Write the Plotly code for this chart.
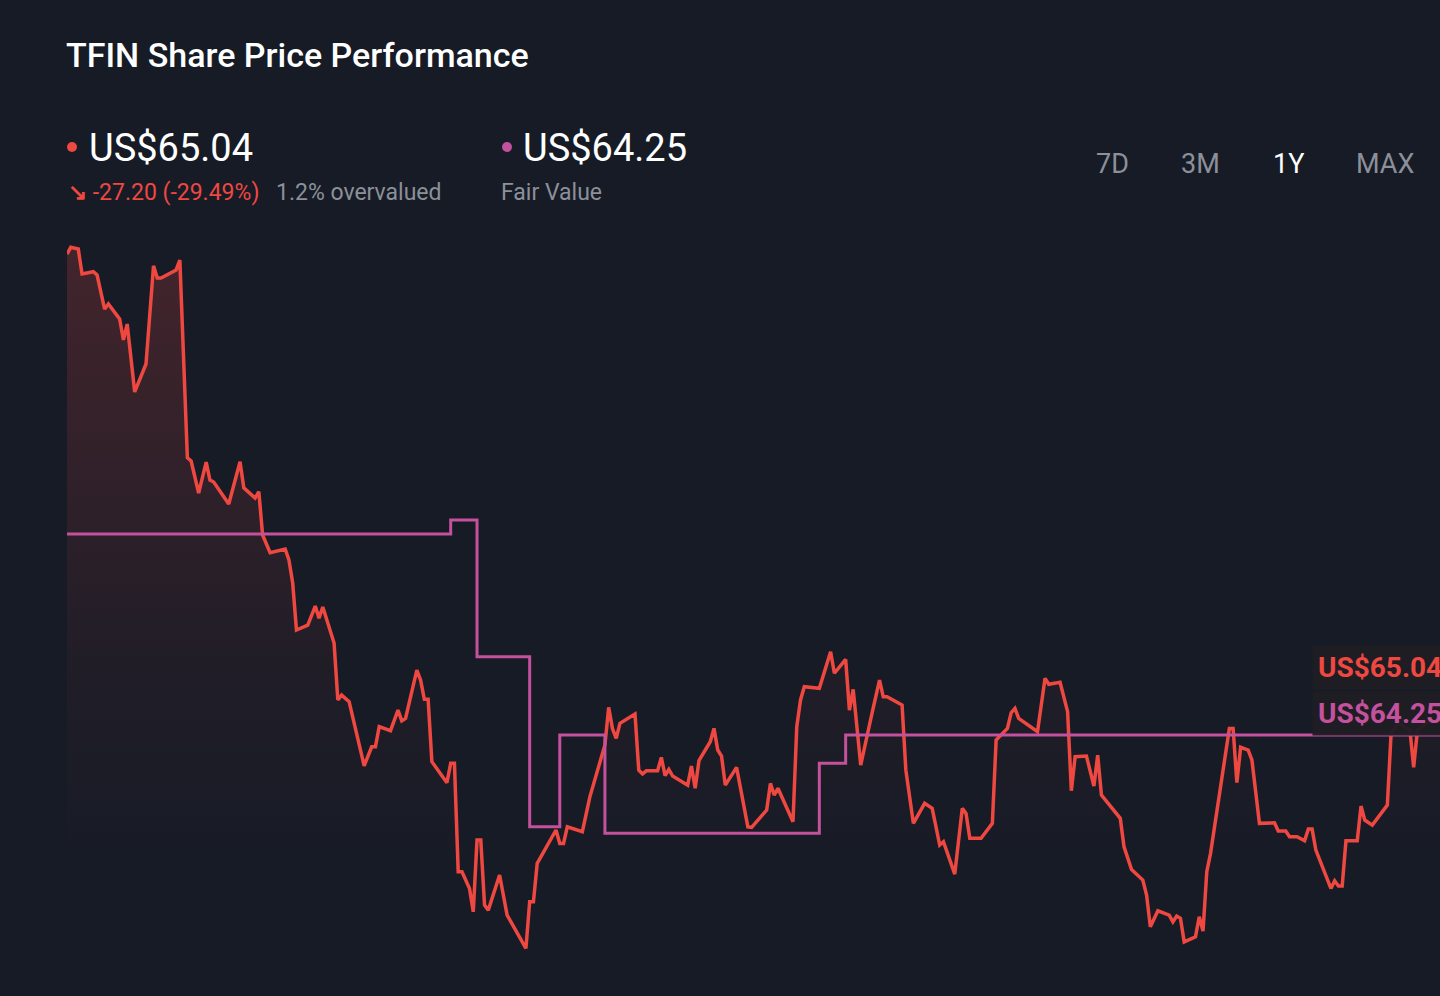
import pandas as pd
import plotly.graph_objects as go

START = "2024-03-10"

# share price (days since start, US$)
PRICE_DAYS = [
    0, 1, 3, 4, 7, 8, 10, 11, 14, 15, 16, 18, 21, 23, 24, 25, 29, 30, 32, 33,
    35, 37, 38, 39, 43, 46, 47, 50, 51, 52, 54, 58, 59, 60, 61, 64, 66, 67, 68, 71,
    72, 73, 75, 79, 81, 82, 83, 86, 88, 89, 90, 93, 94, 95, 96, 97, 101, 102, 103, 104,
    105, 107, 108, 109, 110, 111, 112, 115, 117, 122, 123, 124, 125, 128, 130, 131, 132, 133, 137, 139,
    143, 144, 145, 146, 147, 151, 152, 153, 154, 157, 158, 159, 160, 161, 165, 166, 167, 168, 171, 172,
    173, 174, 175, 178, 180, 181, 182, 186, 187, 188, 189, 193, 194, 195, 196, 200, 203, 204, 207, 208,
    209, 211, 214, 216, 217, 218, 222, 223, 225, 228, 230, 232, 233, 236, 238, 239, 240, 243, 244, 246,
    247, 248, 250, 251, 252, 253, 258, 260, 261, 264, 266, 267, 268, 271, 273, 274, 275, 280, 281, 283,
    286, 287, 288, 290, 293, 294, 295, 296, 297, 300, 301, 302, 303, 304, 309, 310, 311, 312, 314, 315,
    317, 321, 322, 324, 325, 327, 329, 330, 331, 332, 336, 337, 338, 339, 340, 343, 344, 345, 347, 351,
    352, 354, 357, 358, 359, 362, 365,
]
PRICES = [
    91.81, 92.20, 92.10, 90.67, 90.80, 90.61, 88.66, 88.95, 88.09, 86.89, 87.80, 83.91, 85.51, 91.14, 90.44, 90.44, 90.90, 91.47, 80.14, 79.95,
    78.12, 79.89, 78.86, 78.75, 77.49, 79.91, 78.42, 77.83, 78.19, 75.71, 74.70, 74.91, 74.28, 72.96, 70.27, 70.55, 71.64, 70.95, 71.59, 69.52,
    66.26, 66.54, 66.16, 62.49, 63.58, 63.58, 64.73, 64.50, 65.68, 65.07, 65.21, 67.97, 67.40, 66.30, 66.30, 62.72, 61.52, 62.63, 62.63, 56.42,
    56.42, 55.46, 54.12, 58.23, 58.23, 54.51, 54.22, 56.23, 53.93, 52.03, 54.70, 54.70, 56.90, 58.04, 58.81, 58.04, 58.04, 58.99, 58.71, 60.71,
    63.68, 65.84, 64.63, 64.06, 64.92, 65.45, 62.24, 62.02, 62.20, 62.20, 62.97, 61.92, 62.28, 61.90, 61.38, 62.47, 61.20, 62.78, 63.87, 64.63,
    63.39, 63.05, 61.38, 62.40, 60.14, 58.99, 58.96, 59.95, 61.48, 60.81, 61.20, 59.28, 64.73, 66.26, 67.02, 66.93, 69.02, 67.79, 68.59, 65.68,
    66.87, 62.53, 65.49, 67.40, 66.44, 66.44, 65.97, 62.24, 59.19, 60.34, 60.05, 57.95, 58.14, 56.28, 60.05, 59.76, 58.33, 58.33, 58.62, 59.19,
    63.96, 64.19, 64.63, 65.53, 65.78, 65.21, 64.44, 67.50, 67.16, 67.27, 65.59, 61.06, 63.01, 63.05, 61.33, 63.10, 60.81, 59.48, 57.85, 56.55,
    55.94, 55.08, 53.26, 54.18, 53.93, 53.55, 53.88, 53.75, 52.40, 52.69, 53.84, 53.02, 56.42, 57.47, 64.63, 64.63, 61.52, 63.55, 63.39, 62.82,
    59.19, 59.22, 58.75, 58.75, 58.42, 58.42, 58.19, 58.86, 58.86, 57.66, 55.46, 55.90, 55.60, 55.60, 58.19, 58.19, 60.18, 59.38, 59.09, 60.24,
    64.35, 64.94, 64.54, 62.40, 64.54, 65.01, 65.04,
]

# fair value estimate, changes on these days
FV_DAYS = [0, 102, 109, 123, 131, 143, 200, 207, 365]
FV_VALUES = [75.77, 76.57, 68.74, 59.00, 64.25, 58.62, 62.63, 64.25, 64.25]

LAST_PRICE = "US$65.04"
FAIR_VALUE = "US$64.25"
CHANGE = "-27.20 (-29.49%)"
VALUATION = "1.2% overvalued"
RANGES = ["7D", "3M", "1Y", "MAX"]

BG = "#161b26"
RED = "#ee4841"
PINK = "#c4519d"
GREY = "#8b9099"

W, H = 1440, 996
L, R, T, B = 67, 1440, 230, 960

start = pd.Timestamp(START)
price_x = start + pd.to_timedelta(PRICE_DAYS, unit="D")
fv_x = start + pd.to_timedelta(FV_DAYS, unit="D")


def px(x):
    return (x - L) / (R - L)


def py(y):
    return (B - y) / (B - T)


fig = go.Figure()
fig.add_trace(go.Scatter(
    x=price_x, y=PRICES, mode="lines",
    line=dict(color=RED, width=3.5),
    fill="tozeroy",
    fillgradient=dict(
        type="vertical", start=55.5, stop=92.3,
        colorscale=[[0, "rgba(238,72,65,0)"], [0.35, "rgba(238,72,65,0.05)"],
                    [1, "rgba(238,72,65,0.21)"]],
    ),
    hoverinfo="skip", showlegend=False,
))
fig.add_trace(go.Scatter(
    x=fv_x, y=FV_VALUES, mode="lines", line_shape="hv",
    line=dict(color=PINK, width=3),
    hoverinfo="skip", showlegend=False,
))

ann = []


def text(x, y, s, size, color, weight=400, anchor="left", **kw):
    ann.append(dict(
        x=px(x), y=py(y), xref="paper", yref="paper", text=s, showarrow=False,
        xanchor=anchor, yanchor="middle",
        font=dict(family="Roboto", size=size, color=color, weight=weight), **kw,
    ))


text(64, 55, "TFIN Share Price Performance", 34, "#ffffff", 500)
text(87, 148, LAST_PRICE, 38, "#ffffff")
text(521, 148, FAIR_VALUE, 38, "#ffffff")
text(66, 192, "<b>\u2198</b> " + CHANGE, 23, RED)
text(274, 192, VALUATION, 23, GREY)
text(499, 192, "Fair Value", 23, GREY)

for label, cx in zip(RANGES, [1112, 1200, 1288, 1385]):
    text(cx, 164, label, 27, "#ffffff" if label == "1Y" else GREY, anchor="center")

for label, color, cy in [(LAST_PRICE, RED, 667), (FAIR_VALUE, PINK, 713)]:
    text(1312, cy, label, 28, color, 700, bgcolor="rgba(30,29,35,0.96)", borderpad=5)

shapes = []
for cx, color in [(72, RED), (507, PINK)]:
    shapes.append(dict(
        type="circle", xref="paper", yref="paper",
        x0=px(cx - 5), x1=px(cx + 5), y0=py(152), y1=py(142),
        fillcolor=color, line=dict(width=0),
    ))

fig.update_layout(
    width=W, height=H,
    paper_bgcolor=BG, plot_bgcolor=BG,
    margin=dict(l=L, r=W - R, t=T, b=H - B),
    annotations=ann, shapes=shapes,
    xaxis=dict(range=[start, start + pd.Timedelta(days=365)], visible=False, fixedrange=True),
    yaxis=dict(range=[51.36, 93.19], visible=False, fixedrange=True),
    showlegend=False,
)

fig.write_html(
    "out.html",
    config={"displayModeBar": False},
    post_script="document.body.style.margin='0';"
                "document.body.style.background='" + BG + "';"
                "document.body.style.overflow='hidden';",
)
